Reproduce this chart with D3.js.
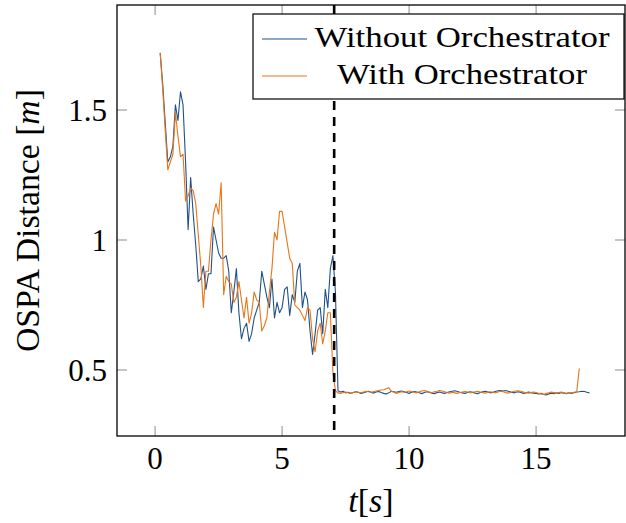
<!DOCTYPE html>
<html>
<head>
<meta charset="utf-8">
<script src="https://cdn.jsdelivr.net/npm/d3@7"></script>
<style>
  body { margin: 0; background: #fff; }
  text { font-family: "Liberation Serif", "Times New Roman", serif; fill: #000; }
</style>
</head>
<body>
<svg id="chart" width="626" height="523"></svg>
<script>
// sampling grid (s)
const t0 = 0.2, dt = 0.1;

// OSPA distance without orchestrator, t = 0.2 .. 17.1
const without_orch = [
  1.72, 1.60, 1.45, 1.30, 1.32, 1.36, 1.52, 1.46, 1.57, 1.52,
  1.30, 1.04, 1.24, 1.10, 0.98, 0.84, 0.85, 0.90, 0.81, 0.87,
  0.87, 1.05, 1.00, 0.95, 0.93, 0.93, 0.94, 0.88, 0.72, 0.80,
  0.89, 0.72, 0.62, 0.66, 0.68, 0.61, 0.64, 0.70, 0.73, 0.76,
  0.88, 0.83, 0.78, 0.74, 0.85, 0.70, 0.76, 0.72, 0.74, 0.81,
  0.82, 0.71, 0.79, 0.76, 0.88, 0.91, 0.74, 0.80, 0.77, 0.65,
  0.56, 0.64, 0.73, 0.74, 0.64, 0.81, 0.74, 0.89, 0.94, 0.80,
  0.420, 0.415, 0.418, 0.412, 0.414, 0.410, 0.413, 0.416, 0.414, 0.410,
  0.412, 0.415, 0.418, 0.414, 0.411, 0.415, 0.417, 0.413, 0.410, 0.408,
  0.412, 0.418, 0.416, 0.414, 0.417, 0.419, 0.416, 0.413, 0.410, 0.414,
  0.417, 0.415, 0.412, 0.409, 0.413, 0.416, 0.414, 0.411, 0.409, 0.413,
  0.415, 0.412, 0.410, 0.413, 0.416, 0.418, 0.420, 0.417, 0.414, 0.412,
  0.410, 0.413, 0.416, 0.414, 0.411, 0.409, 0.413, 0.416, 0.418, 0.415,
  0.412, 0.414, 0.417, 0.420, 0.421, 0.419, 0.421, 0.418, 0.415, 0.412,
  0.414, 0.416, 0.413, 0.410, 0.412, 0.415, 0.413, 0.411, 0.410, 0.408,
  0.410, 0.406, 0.404, 0.408, 0.411, 0.409, 0.412, 0.410, 0.413, 0.411,
  0.409, 0.412, 0.410, 0.413, 0.415, 0.416, 0.418, 0.417, 0.414, 0.412
];

// OSPA distance with orchestrator, t = 0.2 .. 16.7
const with_orch = [
  1.72, 1.58, 1.42, 1.27, 1.30, 1.33, 1.49, 1.40, 1.32, 1.33,
  1.15, 1.17, 1.20, 1.19, 1.14, 1.02, 0.90, 0.74, 0.88, 0.88,
  1.00, 1.10, 1.14, 1.10, 1.22, 0.79, 0.86, 0.84, 0.83, 0.76,
  0.78, 0.84, 0.77, 0.70, 0.78, 0.68, 0.72, 0.80, 0.77, 0.76,
  0.65, 0.67, 0.70, 0.80, 0.89, 1.03, 1.00, 1.11, 1.11, 1.05,
  0.99, 0.93, 0.91, 0.75, 0.74, 0.73, 0.71, 0.69, 0.74, 0.73,
  0.62, 0.57, 0.65, 0.68, 0.60, 0.65, 0.72, 0.72, 0.49,
  0.420, 0.412, 0.410, 0.413, 0.415, 0.412, 0.410, 0.413, 0.416,
  0.414, 0.412, 0.415, 0.418, 0.416, 0.414, 0.417, 0.419, 0.421, 0.423,
  0.424, 0.428, 0.432, 0.418, 0.414, 0.410, 0.413, 0.416, 0.414, 0.416,
  0.419, 0.417, 0.414, 0.412, 0.416, 0.419, 0.421, 0.418, 0.415, 0.413,
  0.416, 0.418, 0.421, 0.419, 0.416, 0.413, 0.411, 0.414, 0.412, 0.410,
  0.413, 0.415, 0.417, 0.415, 0.412, 0.414, 0.416, 0.418, 0.415, 0.413,
  0.411, 0.414, 0.416, 0.414, 0.412, 0.415, 0.418, 0.416, 0.413, 0.411,
  0.414, 0.417, 0.419, 0.420, 0.418, 0.415, 0.413, 0.411, 0.413, 0.415,
  0.413, 0.410, 0.408, 0.406, 0.410, 0.412, 0.415, 0.413, 0.411, 0.413,
  0.415, 0.412, 0.410, 0.413, 0.412, 0.414, 0.416, 0.506
];

const x_ticks = [0, 5, 10, 15];
const y_ticks = [0.5, 1, 1.5];
const y_tick_labels = ['0.5', '1', '1.5'];
const switch_time = 7.05;
const series_names = ['Without Orchestrator', 'With Orchestrator'];
const series_colors = ['#1f5289', '#e8751a'];

draw_chart();

function draw_chart() {
    const margin = {top: 5, right: 1, bottom: 87, left: 117};
    const width = 626 - margin.left - margin.right;
    const height = 523 - margin.top - margin.bottom;

    const svg = d3.select('#chart');
    const g = svg.append('g')
        .attr('transform', 'translate(' + margin.left + ',' + margin.top + ')');

    const x = d3.scaleLinear().domain([-1.5, 18.5]).range([0, width]);
    const y = d3.scaleLinear().domain([0.246, 1.904]).range([height, 0]);

    const toPoints = vals => vals.map((v, i) => ({t: t0 + i * dt, v: v}));
    const series = [toPoints(without_orch), toPoints(with_orch)];

    /* ticks, pointing inwards on all four sides */
    const tickLen = 10;
    const tickColor = '#a6a6a6';
    x_ticks.forEach(d => {
        g.append('line').attr('x1', x(d)).attr('x2', x(d))
            .attr('y1', height).attr('y2', height - tickLen)
            .attr('stroke', tickColor).attr('stroke-width', 1.3);
        g.append('line').attr('x1', x(d)).attr('x2', x(d))
            .attr('y1', 0).attr('y2', tickLen)
            .attr('stroke', tickColor).attr('stroke-width', 1.3);
        g.append('text')
            .attr('x', x(d)).attr('y', height + 33)
            .attr('text-anchor', 'middle')
            .style('font-size', '31px')
            .text(d);
    });
    y_ticks.forEach((d, i) => {
        g.append('line').attr('x1', 0).attr('x2', tickLen)
            .attr('y1', y(d)).attr('y2', y(d))
            .attr('stroke', tickColor).attr('stroke-width', 1.3);
        g.append('line').attr('x1', width).attr('x2', width - tickLen)
            .attr('y1', y(d)).attr('y2', y(d))
            .attr('stroke', tickColor).attr('stroke-width', 1.3);
        g.append('text')
            .attr('x', -10).attr('y', y(d))
            .attr('dy', '0.34em')
            .attr('text-anchor', 'end')
            .style('font-size', '31px')
            .text(y_tick_labels[i]);
    });

    /* data lines */
    const line = d3.line()
        .x(d => x(d.t))
        .y(d => y(d.v));

    series.forEach((s, i) => {
        g.append('path')
            .datum(s)
            .attr('fill', 'none')
            .attr('stroke', series_colors[i])
            .attr('stroke-width', 1.1)
            .attr('stroke-linejoin', 'round')
            .attr('d', line);
    });

    /* switch marker */
    g.append('line')
        .attr('x1', x(switch_time)).attr('x2', x(switch_time))
        .attr('y1', 0).attr('y2', height)
        .attr('stroke', '#000')
        .attr('stroke-width', 2.6)
        .attr('stroke-dasharray', '9,7');

    /* frame */
    g.append('rect')
        .attr('width', width).attr('height', height)
        .attr('fill', 'none')
        .attr('stroke', '#000')
        .attr('stroke-width', 1.3);

    /* axis labels */
    const xl = svg.append('text')
        .attr('x', margin.left + width / 2).attr('y', 512)
        .attr('text-anchor', 'middle')
        .style('font-size', '34px');
    xl.append('tspan').style('font-style', 'italic').text('t');
    xl.append('tspan').text('[');
    xl.append('tspan').style('font-style', 'italic').text('s');
    xl.append('tspan').text(']');

    const yl = svg.append('text')
        .attr('transform', 'translate(39,' + (margin.top + height / 2) + ') rotate(-90)')
        .attr('text-anchor', 'middle')
        .attr('textLength', 263)
        .attr('lengthAdjust', 'spacingAndGlyphs')
        .style('font-size', '33px');
    yl.append('tspan').text('OSPA Distance [');
    yl.append('tspan').style('font-style', 'italic').text('m');
    yl.append('tspan').text(']');

    /* legend */
    const legend = svg.append('g');
    legend.append('rect')
        .attr('x', 253).attr('y', 14)
        .attr('width', 371).attr('height', 85)
        .attr('fill', '#fff')
        .attr('stroke', '#000')
        .attr('stroke-width', 1.2);
    const textLens = [295, 250];
    series_names.forEach((name, i) => {
        const ly = 39 + i * 37;
        legend.append('line')
            .attr('x1', 262).attr('x2', 307)
            .attr('y1', ly).attr('y2', ly)
            .attr('stroke', series_colors[i])
            .attr('stroke-width', 1.1);
        legend.append('text')
            .attr('x', 462).attr('y', ly + 8)
            .attr('text-anchor', 'middle')
            .attr('textLength', textLens[i])
            .attr('lengthAdjust', 'spacingAndGlyphs')
            .style('font-size', '30px')
            .text(name);
    });
}
</script>
</body>
</html>
